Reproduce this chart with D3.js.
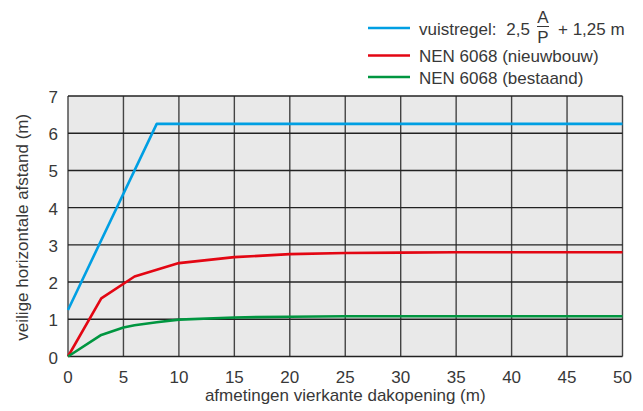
<!DOCTYPE html>
<html>
<head>
<meta charset="utf-8">
<script src="https://cdn.jsdelivr.net/npm/d3@7"></script>
<style>
  body { margin: 0; background: #fff; }
  text { font-family: "Liberation Sans", Arial, sans-serif; fill: #383838; }
</style>
</head>
<body>
<div id="chart"></div>
<script>
// Data
const xTicks = [0, 5, 10, 15, 20, 25, 30, 35, 40, 45, 50];
const yTicks = [0, 1, 2, 3, 4, 5, 6, 7];

const vuistregel = [[0, 1.25], [8, 6.25], [50, 6.25]];
const nieuwbouw = [[0, 0], [3, 1.56], [6, 2.15], [8, 2.33], [10, 2.51], [15, 2.67], [20, 2.75], [25, 2.78], [30, 2.79], [35, 2.8], [50, 2.8]];
const bestaand = [[0, 0], [3, 0.58], [5, 0.78], [6, 0.84], [8, 0.92], [10, 0.99], [15, 1.05], [20, 1.07], [25, 1.08], [50, 1.08]];

const series = [
  { name: 'vuistregel', data: vuistregel, color: '#009fe3' },
  { name: 'NEN 6068 (nieuwbouw)', data: nieuwbouw, color: '#e30613' },
  { name: 'NEN 6068 (bestaand)', data: bestaand, color: '#009640' },
];

const width = 643, height = 411;
const margin = { top: 96, right: 20, bottom: 54, left: 68 };
const fontSize = '17px';

const svg = d3.select('#chart')
  .append('svg')
  .attr('width', width)
  .attr('height', height);

const x = d3.scaleLinear().domain([0, 50]).range([margin.left, width - margin.right - 0.5]);
const y = d3.scaleLinear().domain([0, 7]).range([height - margin.bottom - 0.5, margin.top]);

// Plot background
svg.append('rect')
  .attr('x', x(0))
  .attr('y', y(7))
  .attr('width', x(50) - x(0))
  .attr('height', y(0) - y(7))
  .attr('fill', '#e9e9e9');

// Grid
svg.append('g')
  .selectAll('line')
  .data(xTicks)
  .enter()
  .append('line')
  .attr('x1', (d) => x(d))
  .attr('x2', (d) => x(d))
  .attr('y1', y(0))
  .attr('y2', y(7))
  .attr('stroke', '#444')
  .attr('stroke-width', 1.4);

svg.append('g')
  .selectAll('line')
  .data(yTicks)
  .enter()
  .append('line')
  .attr('x1', x(0))
  .attr('x2', x(50))
  .attr('y1', (d) => y(d))
  .attr('y2', (d) => y(d))
  .attr('stroke', '#222')
  .attr('stroke-width', 1.4);

// Tick labels
svg.append('g')
  .selectAll('text')
  .data(xTicks)
  .enter()
  .append('text')
  .attr('x', (d) => x(d))
  .attr('y', 383)
  .attr('text-anchor', 'middle')
  .attr('font-size', fontSize)
  .text((d) => d);

svg.append('g')
  .selectAll('text')
  .data(yTicks)
  .enter()
  .append('text')
  .attr('x', x(0) - 10)
  .attr('y', (d) => y(d) + 7)
  .attr('text-anchor', 'end')
  .attr('font-size', fontSize)
  .text((d) => d);

// Axis titles
svg.append('text')
  .attr('x', (x(0) + x(50)) / 2)
  .attr('y', 401)
  .attr('text-anchor', 'middle')
  .attr('font-size', fontSize)
  .text('afmetingen vierkante dakopening (m)');

svg.append('text')
  .attr('transform', `translate(28, ${(y(0) + y(7)) / 2 + 1}) rotate(-90)`)
  .attr('text-anchor', 'middle')
  .attr('font-size', fontSize)
  .text('veilige horizontale afstand (m)');

// Lines
const line = d3.line()
  .x((d) => x(d[0]))
  .y((d) => y(d[1]));

svg.append('g')
  .selectAll('path')
  .data(series)
  .enter()
  .append('path')
  .attr('d', (d) => line(d.data))
  .attr('fill', 'none')
  .attr('stroke', (d) => d.color)
  .attr('stroke-width', 2.6)
  .attr('stroke-linejoin', 'round');

// Legend
const legendY = [28, 55.5, 77];
const legend = svg.append('g');
series.forEach((s, i) => {
  legend.append('line')
    .attr('x1', 368)
    .attr('x2', 410)
    .attr('y1', legendY[i])
    .attr('y2', legendY[i])
    .attr('stroke', s.color)
    .attr('stroke-width', 2.6);
});

// first entry with the A/P fraction
legend.append('text')
  .attr('x', 419)
  .attr('y', legendY[0] + 6.5)
  .attr('font-size', fontSize)
  .text('vuistregel:');
legend.append('text')
  .attr('x', 530)
  .attr('y', legendY[0] + 6.5)
  .attr('text-anchor', 'end')
  .attr('font-size', fontSize)
  .text('2,5');
legend.append('text')
  .attr('x', 543)
  .attr('y', 22.5)
  .attr('text-anchor', 'middle')
  .attr('font-size', fontSize)
  .text('A');
legend.append('line')
  .attr('x1', 537)
  .attr('x2', 549)
  .attr('y1', 26.5)
  .attr('y2', 26.5)
  .attr('stroke', '#383838')
  .attr('stroke-width', 1);
legend.append('text')
  .attr('x', 543)
  .attr('y', 42.5)
  .attr('text-anchor', 'middle')
  .attr('font-size', fontSize)
  .text('P');
legend.append('text')
  .attr('x', 558)
  .attr('y', legendY[0] + 6.5)
  .attr('font-size', fontSize)
  .text('+ 1,25 m');

legend.append('text')
  .attr('x', 419)
  .attr('y', legendY[1] + 6.5)
  .attr('font-size', fontSize)
  .text(series[1].name);
legend.append('text')
  .attr('x', 419)
  .attr('y', legendY[2] + 6.5)
  .attr('font-size', fontSize)
  .text(series[2].name);
</script>
</body>
</html>
